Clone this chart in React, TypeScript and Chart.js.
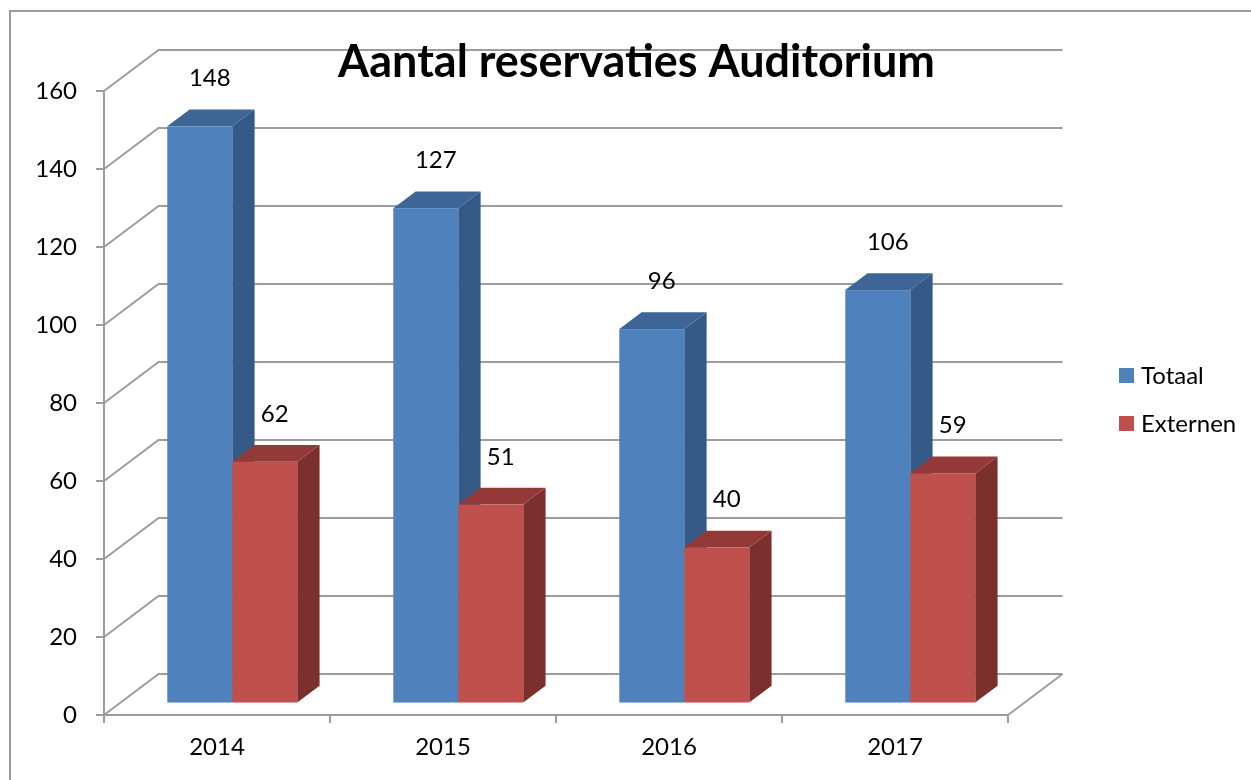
import React, { useEffect, useRef } from "react";
import { Chart, registerables } from "chart.js";

Chart.register(...registerables);

const categories = ["2014", "2015", "2016", "2017"];
const seriesNames = ["Totaal", "Externen"];
const totaal = [148, 127, 96, 106];
const externen = [62, 51, 40, 59];
const yMin = 0;
const yMax = 160;
const yStep = 20;
const titleText = "Aantal reservaties Auditorium";

const FRONT = ["#4F81BD", "#C0504D"];
const TOP = ["#3D6596", "#933A38"];
const SIDE = ["#365A87", "#7C302E"];
const GRID = "#9c9c9c";
const FONT = "Lato, 'Open Sans', sans-serif";
const FONT_SIZE = 24;

// oblique depth of the whole box
const DEPTH = { x: 54.5, y: -41 };
const BAR_SHIFT = 0.28; // bar front plane position in depth
const BAR_DEPTH = 0.41; // bar thickness in depth

const threeD = {
  id: "threeD",
  beforeDatasetsDraw(chart: any) {
    const { ctx, chartArea } = chart;
    const ys = chart.scales.y;
    ctx.save();
    ctx.strokeStyle = GRID;
    ctx.lineWidth = 2;
    for (let v = yMin; v <= yMax; v += yStep) {
      const y = ys.getPixelForValue(v);
      ctx.beginPath();
      ctx.moveTo(chartArea.left, y);
      ctx.lineTo(chartArea.left + DEPTH.x, y + DEPTH.y);
      ctx.lineTo(chartArea.right + DEPTH.x, y + DEPTH.y);
      ctx.stroke();
    }
    // floor right edge
    const y0 = ys.getPixelForValue(yMin);
    ctx.beginPath();
    ctx.moveTo(chartArea.right, y0);
    ctx.lineTo(chartArea.right + DEPTH.x, y0 + DEPTH.y);
    ctx.stroke();
    ctx.restore();
  },
  afterDatasetsDraw(chart: any) {
    const { ctx } = chart;
    const sx = DEPTH.x * BAR_SHIFT;
    const sy = DEPTH.y * BAR_SHIFT;
    const dx = DEPTH.x * BAR_DEPTH;
    const dy = DEPTH.y * BAR_DEPTH;
    ctx.save();
    const n = categories.length;
    const labels: any[] = [];
    for (let i = 0; i < n; i++) {
      for (let d = 0; d < chart.data.datasets.length; d++) {
        const el: any = chart.getDatasetMeta(d).data[i];
        const w = el.width;
        const x0 = el.x - w / 2 + sx;
        const x1 = el.x + w / 2 + sx;
        const yt = el.y + sy;
        const yb = el.base + sy;
        // side
        ctx.fillStyle = SIDE[d];
        ctx.beginPath();
        ctx.moveTo(x1, yt);
        ctx.lineTo(x1 + dx, yt + dy);
        ctx.lineTo(x1 + dx, yb + dy);
        ctx.lineTo(x1, yb);
        ctx.closePath();
        ctx.fill();
        // top
        ctx.fillStyle = TOP[d];
        ctx.beginPath();
        ctx.moveTo(x0, yt);
        ctx.lineTo(x1, yt);
        ctx.lineTo(x1 + dx, yt + dy);
        ctx.lineTo(x0 + dx, yt + dy);
        ctx.closePath();
        ctx.fill();
        // front
        ctx.fillStyle = FRONT[d];
        ctx.fillRect(x0, yt, x1 - x0, yb - yt);
        labels.push({
          text: String(chart.data.datasets[d].data[i]),
          x: (x0 + x1) / 2 + 10,
          y: yt + dy - 31,
        });
      }
    }
    ctx.fillStyle = "#000";
    ctx.font = `${FONT_SIZE}px ${FONT}`;
    ctx.textAlign = "center";
    ctx.textBaseline = "middle";
    labels.forEach((l) => ctx.fillText(l.text, l.x, l.y));

    // legend
    const legendY = [375.5, 423.5];
    seriesNames.forEach((name, k) => {
      ctx.fillStyle = FRONT[k];
      ctx.fillRect(1119, legendY[k] - 7.5, 15, 15);
      ctx.fillStyle = "#000";
      ctx.textAlign = "left";
      ctx.fillText(name, 1141, legendY[k] + 1);
    });

    // title
    ctx.textAlign = "center";
    ctx.textBaseline = "alphabetic";
    let size = 40;
    ctx.font = `bold ${size}px ${FONT}`;
    const wMeasured = ctx.measureText(titleText).width;
    size = Math.max(30, Math.min(48, (size * 597) / wMeasured));
    ctx.font = `bold ${size}px ${FONT}`;
    ctx.fillText(titleText, 636.5, 77);

    // outer frame
    ctx.strokeStyle = GRID;
    ctx.lineWidth = 2;
    ctx.beginPath();
    ctx.moveTo(10, 800);
    ctx.lineTo(10, 11);
    ctx.lineTo(1300, 11);
    ctx.stroke();
    ctx.restore();
  },
};

export default function App() {
  const ref = useRef<HTMLCanvasElement | null>(null);
  useEffect(() => {
    const canvas = ref.current;
    if (!canvas) return;
    const tickFont = { family: FONT, size: FONT_SIZE };
    const chart = new Chart(canvas, {
      type: "bar",
      data: {
        labels: categories,
        datasets: [
          {
            label: seriesNames[0],
            data: totaal,
            backgroundColor: "rgba(0,0,0,0)",
            borderWidth: 0,
            categoryPercentage: 0.575,
            barPercentage: 1,
          },
          {
            label: seriesNames[1],
            data: externen,
            backgroundColor: "rgba(0,0,0,0)",
            borderWidth: 0,
            categoryPercentage: 0.575,
            barPercentage: 1,
          },
        ],
      },
      options: {
        responsive: false,
        animation: false,
        devicePixelRatio: 1,
        layout: { padding: { top: 91, right: 243, bottom: 0, left: 0 } },
        plugins: {
          legend: { display: false },
          title: { display: false },
          tooltip: { enabled: false },
        },
        scales: {
          x: {
            grid: {
              drawOnChartArea: false,
              drawTicks: true,
              tickLength: 8,
              color: GRID,
              lineWidth: 2,
              offset: true,
            },
            border: { display: true, color: GRID, width: 2 },
            ticks: { font: tickFont, color: "#000", padding: 10, maxRotation: 0 },
            afterFit: (s: any) => {
              s.height = 65;
            },
          },
          y: {
            min: yMin,
            max: yMax,
            ticks: { stepSize: yStep, font: tickFont, color: "#000", padding: 19 },
            grid: {
              drawOnChartArea: false,
              drawTicks: true,
              tickLength: 8,
              color: GRID,
              lineWidth: 2,
            },
            border: { display: true, color: GRID, width: 2 },
            afterFit: (s: any) => {
              s.width = 104;
            },
          },
        },
      } as any,
      plugins: [threeD],
    });
    return () => chart.destroy();
  }, []);
  return (
    <div style={{ position: "fixed", left: 0, top: 0, width: 1251, height: 780, background: "#fff" }}>
      <canvas ref={ref} width={1251} height={780} style={{ display: "block" }} />
    </div>
  );
}
